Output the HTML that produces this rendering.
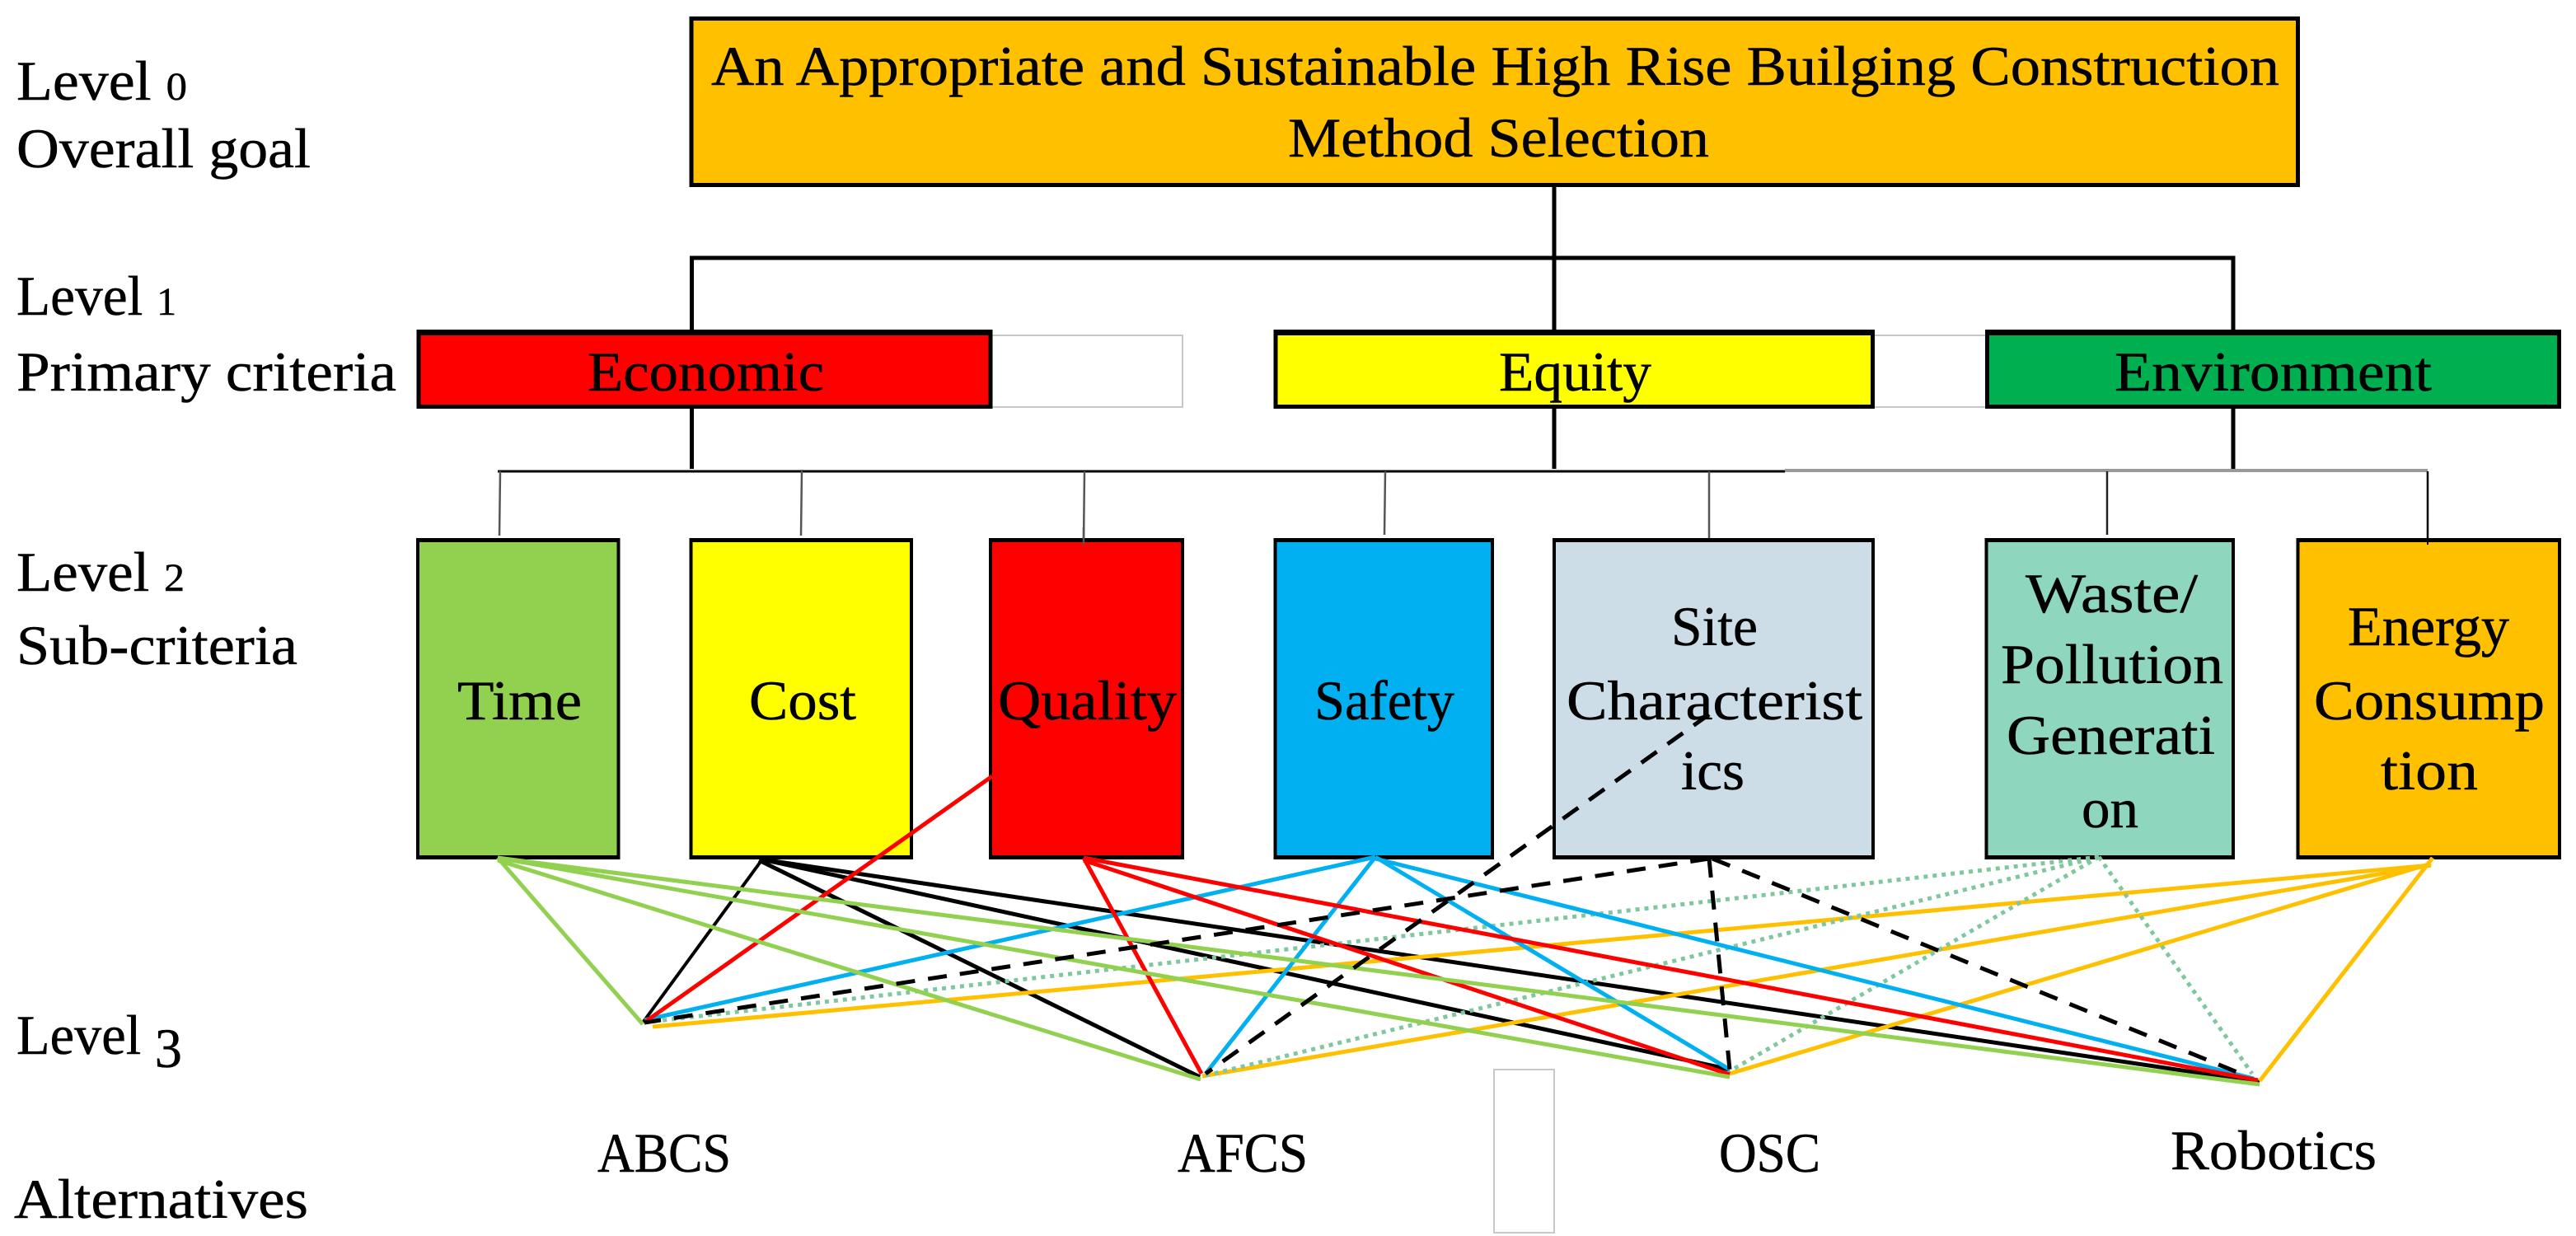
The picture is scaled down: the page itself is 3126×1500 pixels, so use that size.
<!DOCTYPE html>
<html lang="en">
<head>
<meta charset="utf-8">
<title>High Rise Building Construction Method Selection Hierarchy</title>
<style>
html,body{margin:0;padding:0;background:#fff;}
svg{display:block;}
text{font-family:"Liberation Serif",serif;font-size:68px;fill:#000;stroke:#000;stroke-width:0.5px;}
.c{fill:none;stroke-linecap:butt;}
.green{stroke:#92D050;stroke-width:5;}
.black{stroke:#000;stroke-width:5;}
.red{stroke:#FF0000;stroke-width:5;}
.blue{stroke:#00B0F0;stroke-width:5;}
.orange{stroke:#FFC000;stroke-width:5;}
.dash{stroke:#000;stroke-width:5;stroke-dasharray:23 16;}
.dot{stroke:#7FC79F;stroke-width:5;stroke-dasharray:5 6;}
</style>
</head>
<body>
<svg xmlns="http://www.w3.org/2000/svg" width="3126" height="1500" viewBox="0 0 3126 1500">
<rect width="3126" height="1500" fill="#fff"/>

<g fill="#fff" stroke="#c8c8c8" stroke-width="2">
<rect x="1190" y="407" width="245" height="87"/>
<rect x="2260" y="407" width="165" height="87"/>
<rect x="1813" y="1298" width="73" height="198"/>
</g>

<g>
<text x="20" y="121" textLength="207" lengthAdjust="spacingAndGlyphs">Level <tspan style="font-size:48px">0</tspan></text>
<text x="20" y="203" textLength="357" lengthAdjust="spacingAndGlyphs">Overall goal</text>
<text x="20" y="382" textLength="194" lengthAdjust="spacingAndGlyphs">Level <tspan style="font-size:48px">1</tspan></text>
<text x="20" y="474" textLength="461" lengthAdjust="spacingAndGlyphs">Primary criteria</text>
<text x="20" y="717" textLength="204" lengthAdjust="spacingAndGlyphs">Level <tspan style="font-size:48px">2</tspan></text>
<text x="20" y="806" textLength="341" lengthAdjust="spacingAndGlyphs">Sub-criteria</text>
<text x="20" y="1279" textLength="201" lengthAdjust="spacingAndGlyphs">Level <tspan dy="16">3</tspan></text>
<text x="17" y="1478" textLength="357" lengthAdjust="spacingAndGlyphs">Alternatives</text>
</g>

<g fill="none">
<g stroke="#000" stroke-width="5">
<line x1="1886" y1="227" x2="1886" y2="400"/>
<path d="M839.5 400V313H2710V400"/>
<line x1="839.5" y1="496" x2="839.5" y2="569"/>
<line x1="1886" y1="496" x2="1886" y2="569"/>
<line x1="2710" y1="496" x2="2710" y2="569"/>
</g>
<line x1="604" y1="572" x2="2166" y2="572" stroke="#000" stroke-width="3"/>
<line x1="2166" y1="571" x2="2946" y2="571" stroke="#999" stroke-width="4"/>
<g stroke-width="2.5" stroke="#555">
<line x1="607" y1="572" x2="606" y2="650"/>
<line x1="973" y1="570" x2="972" y2="650"/>
<line x1="1316" y1="572" x2="1315" y2="661"/>
<line x1="1681" y1="572" x2="1680" y2="649"/>
<line x1="2074" y1="572" x2="2074" y2="654"/>
<line x1="2557" y1="572" x2="2557" y2="649" stroke="#222"/>
<line x1="2946" y1="572" x2="2946" y2="661" stroke="#000"/>
</g>
</g>

<g>
<rect x="836.5" y="20" width="1954.5" height="207" fill="#000"/>
<rect x="841.5" y="25" width="1944.5" height="197" fill="#FFC000"/>
<text x="863" y="103" textLength="1903" lengthAdjust="spacingAndGlyphs">An Appropriate and Sustainable High Rise Builging Construction</text>
<text x="1563" y="190" textLength="511" lengthAdjust="spacingAndGlyphs">Method Selection</text>
</g>

<g>
<g>
<rect x="505.5" y="400" width="699" height="96" fill="#000"/>
<rect x="510.5" y="407" width="689" height="84" fill="#FF0000"/>
<text x="713" y="474" textLength="287" lengthAdjust="spacingAndGlyphs">Economic</text>
</g>
<g>
<rect x="1545.5" y="400" width="729.5" height="96" fill="#000"/>
<rect x="1550.5" y="407" width="719.5" height="84" fill="#FFFF00"/>
<text x="1819" y="474" textLength="185" lengthAdjust="spacingAndGlyphs">Equity</text>
</g>
<g>
<rect x="2409" y="400" width="699" height="96" fill="#000"/>
<rect x="2414" y="407" width="689" height="84" fill="#00B050"/>
<text x="2566" y="474" textLength="385" lengthAdjust="spacingAndGlyphs">Environment</text>
</g>
</g>

<g>
<g>
<rect x="505" y="653" width="247.5" height="390" fill="#000"/>
<rect x="509" y="658" width="239.5" height="380" fill="#92D050"/>
<text x="555" y="873" textLength="151" lengthAdjust="spacingAndGlyphs">Time</text>
</g>
<g>
<rect x="836.5" y="653" width="271.5" height="390" fill="#000"/>
<rect x="840.5" y="658" width="263.5" height="380" fill="#FFFF00"/>
<text x="909" y="873" textLength="130" lengthAdjust="spacingAndGlyphs">Cost</text>
</g>
<g>
<rect x="1200" y="653" width="237" height="390" fill="#000"/>
<rect x="1204" y="658" width="229" height="380" fill="#FF0000"/>
<text x="1211" y="873" textLength="217" lengthAdjust="spacingAndGlyphs">Quality</text>
</g>
<g>
<rect x="1545.5" y="653" width="267.5" height="390" fill="#000"/>
<rect x="1549.5" y="658" width="259.5" height="380" fill="#00B0F0"/>
<text x="1595" y="873" textLength="170" lengthAdjust="spacingAndGlyphs">Safety</text>
</g>
<g>
<rect x="1884" y="653" width="391" height="390" fill="#000"/>
<rect x="1888" y="658" width="383" height="380" fill="#CDDDE7"/>
<text x="2028" y="783" textLength="105" lengthAdjust="spacingAndGlyphs">Site</text>
<text x="1901" y="873" textLength="359" lengthAdjust="spacingAndGlyphs">Characterist</text>
<text x="2040" y="958" textLength="77" lengthAdjust="spacingAndGlyphs">ics</text>
</g>
<g>
<rect x="2408.5" y="653" width="303.5" height="390" fill="#000"/>
<rect x="2412.5" y="658" width="295.5" height="380" fill="#8ED6BE"/>
<text x="2458" y="743" textLength="209" lengthAdjust="spacingAndGlyphs">Waste/</text>
<text x="2428" y="829" textLength="270" lengthAdjust="spacingAndGlyphs">Pollution</text>
<text x="2435" y="915" textLength="253" lengthAdjust="spacingAndGlyphs">Generati</text>
<text x="2526" y="1004" textLength="69" lengthAdjust="spacingAndGlyphs">on</text>
</g>
<g>
<rect x="2786.5" y="653" width="321.5" height="390" fill="#000"/>
<rect x="2790.5" y="658" width="313.5" height="380" fill="#FFC000"/>
<text x="2849" y="783" textLength="196" lengthAdjust="spacingAndGlyphs">Energy</text>
<text x="2808" y="873" textLength="280" lengthAdjust="spacingAndGlyphs">Consump</text>
<text x="2889" y="958" textLength="118" lengthAdjust="spacingAndGlyphs">tion</text>
</g>
</g>

<line x1="2946" y1="640" x2="2946" y2="661" stroke="#000" stroke-width="2"/>
<line x1="1315" y1="640" x2="1315" y2="661" stroke="#555" stroke-width="2.5"/>

<g>
<g>
<line class="c black" x1="925" y1="1043" x2="780" y2="1241" style="stroke-width:4"/>
<line class="c black" x1="921" y1="1044" x2="1456" y2="1307"/>
<line class="c black" x1="925" y1="1043" x2="2099" y2="1298"/>
<line class="c black" x1="925" y1="1043" x2="2742" y2="1313"/>
</g>
<g>
<line class="c orange" x1="2950" y1="1050" x2="792" y2="1246"/>
<line class="c orange" x1="2950" y1="1050" x2="1459" y2="1306"/>
<line class="c orange" x1="2950" y1="1048" x2="2099" y2="1303"/>
<line class="c orange" x1="2952" y1="1041" x2="2742" y2="1312"/>
</g>
<g>
<line class="c dot" x1="2547" y1="1040" x2="780" y2="1241"/>
<line class="c dot" x1="2547" y1="1040" x2="1460" y2="1306"/>
<line class="c dot" x1="2547" y1="1040" x2="2099" y2="1300"/>
<line class="c dot" x1="2547" y1="1040" x2="2733" y2="1303"/>
</g>
<g>
<line class="c blue" x1="1669" y1="1040" x2="782" y2="1238"/>
<line class="c blue" x1="1669" y1="1040" x2="1463" y2="1303"/>
<line class="c blue" x1="1669" y1="1040" x2="2099" y2="1298"/>
<line class="c blue" x1="1669" y1="1042" x2="2735" y2="1309"/>
</g>
<g>
<line class="c red" x1="1204" y1="942" x2="783" y2="1240"/>
<line class="c red" x1="1315" y1="1041" x2="1458" y2="1303"/>
<line class="c red" x1="1315" y1="1044" x2="2099" y2="1304"/>
<line class="c red" x1="1315" y1="1041" x2="2740" y2="1311"/>
</g>
<g>
<line class="c green" x1="604" y1="1041" x2="780" y2="1243"/>
<line class="c green" x1="604" y1="1044" x2="1457" y2="1310"/>
<line class="c green" x1="604" y1="1041" x2="2099" y2="1307"/>
<line class="c green" x1="604" y1="1041" x2="2742" y2="1316"/>
</g>
<g>
<line class="c dash" x1="2074" y1="1042" x2="782" y2="1241"/>
<line class="c dash" x1="2074" y1="867" x2="1463" y2="1303"/>
<line class="c dash" x1="2074" y1="1042" x2="2099" y2="1298"/>
<line class="c dash" x1="2078" y1="1042" x2="2717" y2="1302"/>
</g>
</g>

<g>
<text x="725" y="1422" textLength="162" lengthAdjust="spacingAndGlyphs">ABCS</text>
<text x="1429" y="1422" textLength="158" lengthAdjust="spacingAndGlyphs">AFCS</text>
<text x="2086" y="1422" textLength="123" lengthAdjust="spacingAndGlyphs">OSC</text>
<text x="2634" y="1419" textLength="250" lengthAdjust="spacingAndGlyphs">Robotics</text>
</g>
</svg>
</body>
</html>
